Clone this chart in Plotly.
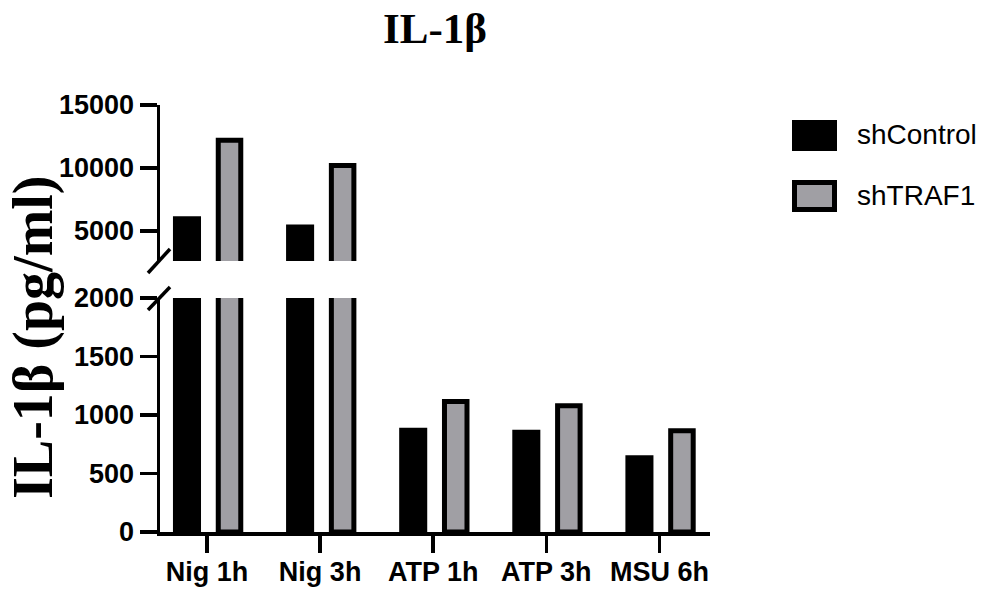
import plotly.graph_objects as go

# ---------------- data ----------------
categories = ["Nig 1h", "Nig 3h", "ATP 1h", "ATP 3h", "MSU 6h"]
sh_control = [6150, 5500, 890, 875, 655]
sh_traf1 = [12200, 10200, 1115, 1080, 865]
series_names = ["shControl", "shTRAF1"]
lower_ticks = [0, 500, 1000, 1500, 2000]
upper_ticks = [5000, 10000, 15000]
lower_range = [0, 2000]
upper_range = [2600, 15000]

# ---------------- layout constants (pixels) ----------------
W, H = 990, 592
L, R, T, B = 160, 710, 105, 532
PW, PH = R - L, B - T
LOW_TOP_PX = 298
UP_BOT_PX = 261

def px_x(x):
    return (x - L) / PW

def px_y(y):
    return (B - y) / PH

BLACK = "#000000"
GRAY = "#a09fa4"
AX_W = 3.5
TICK_FONT = dict(family="Liberation Sans, Arial, sans-serif", size=27, color="black", weight="bold")

fig = go.Figure()
for yax in ["y", "y2"]:
    fig.add_trace(go.Bar(
        x=categories, y=sh_control, name=series_names[0],
        marker=dict(color=BLACK, line=dict(width=0)),
        width=0.248, offset=-0.301, yaxis=yax, xaxis="x", showlegend=False,
        hoverinfo="skip",
    ))
    fig.add_trace(go.Bar(
        x=categories, y=sh_traf1, name=series_names[1],
        marker=dict(color=GRAY, line=dict(color=BLACK, width=5)),
        width=0.199, offset=0.0995, yaxis=yax, xaxis="x", showlegend=False,
        hoverinfo="skip",
    ))

axis_common = dict(
    showgrid=False, zeroline=False, showline=True, linecolor="black", linewidth=AX_W,
    ticks="outside", ticklen=17, tickwidth=AX_W, tickcolor="black", tickfont=TICK_FONT,
    automargin=False,
)

fig.update_layout(
    width=W, height=H,
    margin=dict(l=L, r=W - R, t=T, b=H - B, pad=0, autoexpand=False),
    paper_bgcolor="white", plot_bgcolor="white",
    barmode="overlay",
    xaxis=dict(
        **axis_common, type="category", range=[-0.4156, 4.447], anchor="y",
        categoryorder="array", categoryarray=categories, ticklabelstandoff=-4,
    ),
    yaxis=dict(
        **axis_common, domain=[0, px_y(LOW_TOP_PX)], range=lower_range,
        tickvals=lower_ticks, ticktext=[str(v) for v in lower_ticks], anchor="x",
    ),
    yaxis2=dict(
        **axis_common, domain=[px_y(UP_BOT_PX), 1], range=upper_range,
        tickvals=upper_ticks, ticktext=[str(v) for v in upper_ticks], anchor="x",
    ),
    title=dict(
        text="IL-1β", x=0.5, xref="paper", xanchor="center",
        y=1 - 28 / H, yref="container", yanchor="middle",
        font=dict(family="Liberation Serif, Times New Roman, serif", size=43, color="black", weight="bold"),
    ),
    showlegend=False,
)

# y-axis title
fig.add_annotation(
    text="IL-1β (pg/ml)", xref="paper", yref="paper",
    x=px_x(33), y=px_y(337), xanchor="center", yanchor="middle",
    showarrow=False, textangle=-90,
    font=dict(family="Liberation Serif, Times New Roman, serif", size=56, color="black", weight="bold"),
)

# axis break marks
for (x0, y0, x1, y1) in [(148, 273, 170, 249), (148, 310, 170, 287)]:
    fig.add_shape(type="line", xref="paper", yref="paper",
                  x0=px_x(x0), y0=px_y(y0), x1=px_x(x1), y1=px_y(y1),
                  line=dict(color="black", width=AX_W))

# custom legend
fig.add_shape(type="rect", xref="paper", yref="paper",
              x0=px_x(792), x1=px_x(837), y0=px_y(151), y1=px_y(120),
              fillcolor=BLACK, line=dict(width=0))
fig.add_shape(type="rect", xref="paper", yref="paper",
              x0=px_x(794.5), x1=px_x(834.5), y0=px_y(209.5), y1=px_y(182.5),
              fillcolor=GRAY, line=dict(color=BLACK, width=5))
for name, yc in zip(series_names, [134, 195]):
    fig.add_annotation(text=name, xref="paper", yref="paper", x=px_x(855), y=px_y(yc),
                       xanchor="left", yanchor="middle", showarrow=False,
                       font=dict(family="Liberation Sans, Arial, sans-serif", size=28, color="black"))

fig.write_html("out.html", config={"displayModeBar": False, "staticPlot": True},
               post_script="document.body.style.margin='0';")
